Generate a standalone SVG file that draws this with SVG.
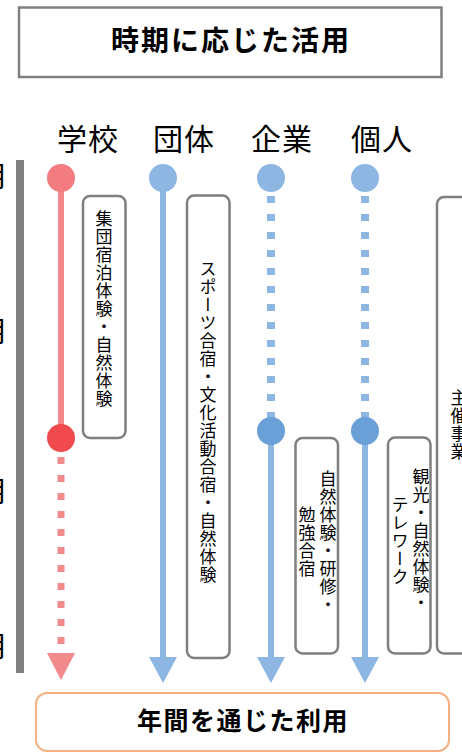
<svg xmlns="http://www.w3.org/2000/svg" width="462" height="753" viewBox="0 0 462 753">
<defs>
<style>
.jp{font-family:"Noto Sans CJK JP","Noto Sans",sans-serif;fill:#000}
.title{font-size:28px;font-weight:bold;text-anchor:middle;letter-spacing:2px}
.head{font-size:30px;text-anchor:middle;letter-spacing:1px}
.side{font-size:28px}
.vt{font-size:17px;writing-mode:vertical-rl;text-anchor:middle;letter-spacing:1px}
.box{fill:#fff;stroke:#7f7f7f;stroke-width:2.5}
.red{stroke:#F28A8C;stroke-width:6;fill:none}
.redd{stroke:#F28A8C;stroke-width:7;stroke-dasharray:7 11;fill:none}
.blue{stroke:#8DB6E2;stroke-width:6;fill:none}
.blued{stroke:#8DB6E2;stroke-width:8;stroke-dasharray:7 11;fill:none}
</style>
</defs>
<rect width="462" height="753" fill="#fff"/>
<g id="title">
<rect x="19" y="7.5" width="422.5" height="69.5" fill="#fff" stroke="#808080" stroke-width="2.5"/>
<text class="jp title" x="231" y="51">時期に応じた活用</text>
</g>
<g id="headers">
<text class="jp head" x="88" y="150">学校</text>
<text class="jp head" x="184" y="150">団体</text>
<text class="jp head" x="282" y="150">企業</text>
<text class="jp head" x="382" y="150">個人</text>
</g>
<g id="side-labels">
<text class="jp side" x="-20" y="187">月</text>
<text class="jp side" x="-20" y="342">月</text>
<text class="jp side" x="-20" y="502">月</text>
<text class="jp side" x="-20" y="657">月</text>
<rect x="16" y="160" width="8" height="513" fill="#808080"/>
</g>
<g id="connectors">
<line class="red" x1="61" y1="178" x2="61" y2="438"/>
<line class="redd" x1="61" y1="457" x2="61" y2="652"/>
<polygon points="47,653 75,653 61,680" fill="#F28A8C"/>
<line class="blue" x1="163" y1="178" x2="163" y2="660"/>
<polygon points="149,657 177,657 163,683" fill="#8DB6E2"/>
<line class="blued" x1="271" y1="196" x2="271" y2="418"/>
<line class="blue" x1="271" y1="431" x2="271" y2="660"/>
<polygon points="257,657 285,657 271,683" fill="#8DB6E2"/>
<line class="blued" x1="365" y1="196" x2="365" y2="418"/>
<line class="blue" x1="365" y1="431" x2="365" y2="660"/>
<polygon points="351,657 379,657 365,683" fill="#8DB6E2"/>
</g>
<g id="points">
<circle cx="61" cy="178" r="14" fill="#F27C7F"/>
<circle cx="61" cy="438" r="14" fill="#F0494E"/>
<circle cx="163" cy="178" r="14" fill="#8DB6E2"/>
<circle cx="271" cy="178" r="14" fill="#8DB6E2"/>
<circle cx="271" cy="431" r="14" fill="#6A9FD8"/>
<circle cx="365" cy="178" r="14" fill="#8DB6E2"/>
<circle cx="365" cy="431" r="14" fill="#6A9FD8"/>
</g>
<g id="school-box">
<rect class="box" x="83" y="196" width="42.5" height="242" rx="7"/>
<text class="jp vt" x="104" y="309">集団宿泊体験・自然体験</text>
</g>
<g id="group-box">
<rect class="box" x="187" y="195.5" width="42.5" height="462.5" rx="7"/>
<text class="jp vt" x="208" y="422">スポーツ合宿・文化活動合宿・自然体験</text>
</g>
<g id="company-box">
<rect class="box" x="295.5" y="438" width="42.5" height="215.5" rx="7"/>
<text class="jp vt" x="328" y="542">自然体験・研修・</text>
<text class="jp vt" x="307" y="542">勉強合宿</text>
</g>
<g id="personal-box">
<rect class="box" x="388" y="437.5" width="42.5" height="216" rx="7"/>
<text class="jp vt" x="421" y="540">観光・自然体験・</text>
<text class="jp vt" x="400" y="541">テレワーク</text>
</g>
<g id="event-box">
<rect class="box" x="437" y="197" width="60" height="456.5" rx="7"/>
<text class="jp vt" x="459" y="425">主催事業</text>
</g>
<g id="yearly">
<rect x="36" y="693" width="413" height="58" rx="11" fill="#fff" stroke="#F4B183" stroke-width="2"/>
<text class="jp title" x="243" y="730" style="font-size:25px;letter-spacing:1.5px">年間を通じた利用</text>
</g>
</svg>
